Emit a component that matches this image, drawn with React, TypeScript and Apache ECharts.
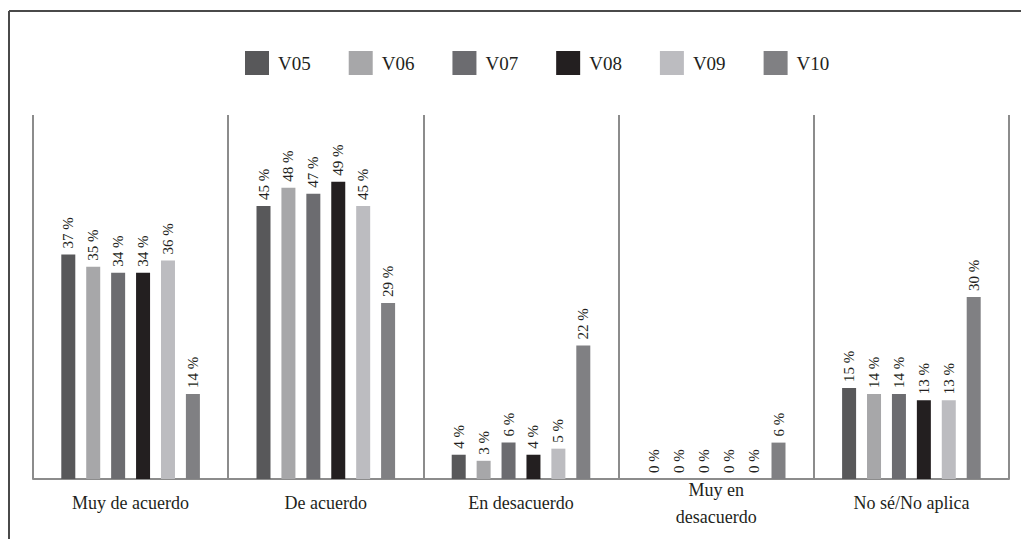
import React, { useEffect, useRef } from "react";
import * as echarts from "echarts";

const categories = ["Muy de acuerdo", "De acuerdo", "En desacuerdo", "Muy en\ndesacuerdo", "No sé/No aplica"];
const seriesNames = ["V05", "V06", "V07", "V08", "V09", "V10"];
const v05 = [37, 45, 4, 0, 15];
const v06 = [35, 48, 3, 0, 14];
const v07 = [34, 47, 6, 0, 14];
const v08 = [34, 49, 4, 0, 13];
const v09 = [36, 45, 5, 0, 13];
const v10 = [14, 29, 22, 6, 30];
const seriesValues = [v05, v06, v07, v08, v09, v10];
const colors = ["#58585a", "#a7a7a9", "#6c6c70", "#231f20", "#bcbcc0", "#808083"];

const FONT = "Liberation Serif";

export default function App() {
  const ref = useRef<HTMLDivElement>(null);

  useEffect(() => {
    if (!ref.current) return;
    const chart = echarts.init(ref.current, null, { renderer: "svg" });
    chart.setOption({
      animation: false,
      backgroundColor: "#ffffff",
      color: colors,
      legend: {
        left: 240,
        top: 46,
        itemWidth: 24,
        itemHeight: 24,
        itemGap: 38,
        icon: "rect",
        data: seriesNames,
        textStyle: {
          fontFamily: FONT,
          fontSize: 19,
          fontWeight: "normal",
          color: "#231f20",
          padding: [0, 0, 0, 4],
        },
      },
      grid: { left: 33, right: 12, top: 115, bottom: 60 },
      xAxis: {
        type: "category",
        data: categories,
        axisLine: { lineStyle: { color: "#8c8c8c", width: 2 } },
        axisTick: { show: false },
        splitLine: { show: true, lineStyle: { color: "#8c8c8c", width: 2 } },
        axisLabel: {
          fontFamily: FONT,
          fontSize: 18,
          color: "#231f20",
          margin: 24,
          verticalAlign: "middle",
          lineHeight: 27,
          interval: 0,
        },
      },
      yAxis: {
        type: "value",
        min: 0,
        max: 60,
        show: false,
        splitLine: { show: false },
      },
      graphic: [
        {
          type: "line",
          shape: { x1: 9, y1: 11, x2: 1021, y2: 11 },
          style: { stroke: "#4a4a4a", lineWidth: 2 },
        },
        {
          type: "line",
          shape: { x1: 9, y1: 11, x2: 9, y2: 539 },
          style: { stroke: "#4a4a4a", lineWidth: 2 },
        },
      ],
      series: seriesNames.map((name, i) => ({
        name,
        type: "bar",
        data: seriesValues[i],
        barWidth: 14,
        barGap: "78%",
        itemStyle: { color: colors[i] },
        label: {
          show: true,
          position: "top",
          rotate: 90,
          align: "left",
          verticalAlign: "middle",
          distance: 6,
          fontFamily: FONT,
          fontSize: 15,
          color: "#231f20",
          formatter: (p: any) => `${p.value} %`,
        },
      })),
    });
    return () => chart.dispose();
  }, []);

  return (
    <div
      ref={ref}
      style={{ position: "fixed", left: 0, top: 0, width: 1021, height: 539 }}
    />
  );
}
